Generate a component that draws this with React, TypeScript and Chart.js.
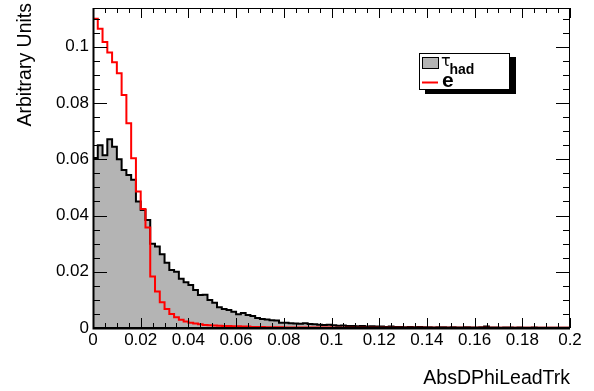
import React, { useEffect, useRef } from "react";
import { Chart, registerables } from "chart.js";

Chart.register(...registerables);

// ---- data ----
const BIN_WIDTH = 0.002;
const X_MIN = 0;
const X_MAX = 0.2;
const Y_MIN = 0;
const Y_MAX = 0.1138;

const tauHad = [
  0.0605, 0.0650, 0.0614, 0.0671, 0.0645, 0.0600, 0.0562, 0.0544, 0.0527, 0.0450,
  0.0420, 0.0384, 0.0300, 0.0290, 0.0262, 0.0232, 0.0206, 0.0200, 0.0175, 0.0163,
  0.0153, 0.0135, 0.0117, 0.0118, 0.0100, 0.0090, 0.0074, 0.0068, 0.0064, 0.0058,
  0.0049, 0.0053, 0.0046, 0.0043, 0.0036, 0.0032, 0.0030, 0.0028, 0.0027, 0.0019,
  0.0019, 0.0017, 0.0016, 0.0015, 0.0017, 0.0014, 0.0013, 0.0012, 0.0011, 0.0012,
  0.0010, 0.0008, 0.0009, 0.0007, 0.0007, 0.0006, 0.0007, 0.0005, 0.0006, 0.0005,
  0.0005, 0.0004, 0.0005, 0.0004, 0.0004, 0.0003, 0.0004, 0.0003, 0.0004, 0.0003,
  0.0003, 0.0002, 0.0003, 0.0003, 0.0002, 0.0003, 0.0002, 0.0002, 0.0003, 0.0002,
  0.0002, 0.0003, 0.0005, 0.0002, 0.0002, 0.0001, 0.0002, 0.0002, 0.0001, 0.0002,
  0.0001, 0.0001, 0.0002, 0.0001, 0.0001, 0.0001, 0.0001, 0.0001, 0.0001, 0.0001,
];

const electron = [
  0.1100, 0.1064, 0.1017, 0.0980, 0.0945, 0.0906, 0.0829, 0.0728, 0.0604, 0.0485,
  0.0423, 0.0357, 0.0183, 0.0130, 0.0092, 0.0068, 0.0050, 0.0038, 0.0029, 0.0023,
  0.0019, 0.0016, 0.0013, 0.0011, 0.0010, 0.0009, 0.0008, 0.0007, 0.0007, 0.0006,
  0.0006, 0.0005, 0.0005, 0.0004, 0.0004, 0.0004, 0.0003, 0.0003, 0.0003, 0.0003,
  0.0002, 0.0002, 0.0002, 0.0002, 0.0002, 0.0002, 0.0002, 0.0002, 0.0002, 0.0002,
  0.0001, 0.0001, 0.0001, 0.0001, 0.0001, 0.0001, 0.0001, 0.0001, 0.0001, 0.0001,
  0.0001, 0.0001, 0.0001, 0.0001, 0.0001, 0.0001, 0.0001, 0.0001, 0.0001, 0.0001,
  0.0001, 0.0001, 0.0001, 0.0001, 0.0001, 0.0001, 0.0001, 0.0001, 0.0001, 0.0001,
  0.0001, 0.0001, 0.0001, 0.0001, 0.0001, 0.0001, 0.0001, 0.0001, 0.0001, 0.0001,
  0.0001, 0.0001, 0.0001, 0.0001, 0.0001, 0.0001, 0.0001, 0.0001, 0.0001, 0.0001,
];

const xTickValues = [0, 0.02, 0.04, 0.06, 0.08, 0.1, 0.12, 0.14, 0.16, 0.18, 0.2];
const xTickLabels = ["0", "0.02", "0.04", "0.06", "0.08", "0.1", "0.12", "0.14", "0.16", "0.18", "0.2"];
const yTickValues = [0, 0.02, 0.04, 0.06, 0.08, 0.1];
const yTickLabels = ["0", "0.02", "0.04", "0.06", "0.08", "0.1"];
const X_MINOR_STEP = 0.005;
const Y_MINOR_STEP = 0.005;

const xTitle = "AbsDPhiLeadTrk";
const yTitle = "Arbitrary Units";
const tauSymbol = "\u03C4";
const tauSubscript = "had";
const electronLabel = "e";

const FONT = "'Liberation Sans', Arial, Helvetica, sans-serif";
const HIST_FILL = "rgb(180,180,180)";

function toSteps(values: number[]) {
  const pts = values.map((v, i) => ({ x: X_MIN + i * BIN_WIDTH, y: v }));
  pts.push({ x: X_MIN + values.length * BIN_WIDTH, y: values[values.length - 1] });
  return pts;
}

const rootFramePlugin = {
  id: "rootFrame",
  afterDatasetsDraw(chart: any) {
    const { ctx, chartArea: a, scales } = chart;
    const xs = scales.x;
    const ys = scales.y;
    ctx.save();
    ctx.strokeStyle = "#000";
    ctx.fillStyle = "#000";

    // frame
    ctx.lineWidth = 1;
    ctx.strokeRect(a.left + 0.5, a.top + 0.5, a.right - a.left - 1, a.bottom - a.top - 1);
    ctx.lineWidth = 2;
    ctx.beginPath();
    ctx.moveTo(a.left + 0.5, a.top);
    ctx.lineTo(a.left + 0.5, a.bottom + 0.5);
    ctx.lineTo(a.right, a.bottom + 0.5);
    ctx.stroke();

    ctx.lineWidth = 1;
    // x ticks
    const nx = Math.round((X_MAX - X_MIN) / X_MINOR_STEP);
    for (let k = 0; k <= nx; k++) {
      const v = X_MIN + k * X_MINOR_STEP;
      const major = xTickValues.some((t) => Math.abs(t - v) < 1e-9);
      const len = major ? 10 : 5;
      const px = Math.round(xs.getPixelForValue(v)) + 0.5;
      ctx.beginPath();
      ctx.moveTo(px, a.bottom);
      ctx.lineTo(px, a.bottom - len);
      ctx.moveTo(px, a.top);
      ctx.lineTo(px, a.top + len);
      ctx.stroke();
    }
    // y ticks
    const ny = Math.floor((Y_MAX - Y_MIN) / Y_MINOR_STEP + 1e-9);
    for (let k = 0; k <= ny; k++) {
      const v = Y_MIN + k * Y_MINOR_STEP;
      const major = yTickValues.some((t) => Math.abs(t - v) < 1e-9);
      const len = major ? 14 : 7;
      const py = Math.round(ys.getPixelForValue(v)) + 0.5;
      ctx.beginPath();
      ctx.moveTo(a.left, py);
      ctx.lineTo(a.left + len, py);
      ctx.moveTo(a.right, py);
      ctx.lineTo(a.right - len, py);
      ctx.stroke();
    }

    // axis titles
    ctx.font = `19.5px ${FONT}`;
    ctx.textAlign = "right";
    ctx.textBaseline = "alphabetic";
    ctx.fillText(xTitle, a.right, 384);
    ctx.save();
    ctx.translate(31, 3);
    ctx.rotate(-Math.PI / 2);
    ctx.textAlign = "right";
    ctx.fillText(yTitle, 0, 0);
    ctx.restore();

    // legend
    const bx = 419, by = 53, bw = 91, bh = 37;
    ctx.fillStyle = "#000";
    ctx.fillRect(bx + 6, by + 4, bw, bh);
    ctx.fillStyle = "#fff";
    ctx.fillRect(bx, by, bw, bh);
    ctx.strokeStyle = "#000";
    ctx.lineWidth = 1;
    ctx.strokeRect(bx + 0.5, by + 0.5, bw - 1, bh - 1);

    // tau entry
    ctx.fillStyle = HIST_FILL;
    ctx.fillRect(422, 57, 16, 11);
    ctx.strokeRect(422.5, 57.5, 16, 11);
    ctx.fillStyle = "#000";
    ctx.textAlign = "left";
    ctx.font = `16px 'DejaVu Sans', sans-serif`;
    ctx.fillText(tauSymbol, 441, 66);
    ctx.font = `bold 14px ${FONT}`;
    ctx.fillText(tauSubscript, 449.5, 73.5);

    // electron entry
    ctx.strokeStyle = "#ff0000";
    ctx.lineWidth = 2;
    ctx.beginPath();
    ctx.moveTo(422, 82.5);
    ctx.lineTo(438, 82.5);
    ctx.stroke();
    ctx.fillStyle = "#000";
    ctx.font = `bold 21px ${FONT}`;
    ctx.fillText(electronLabel, 442, 87);

    ctx.restore();
  },
};

export default function App() {
  const canvasRef = useRef<HTMLCanvasElement | null>(null);

  useEffect(() => {
    const canvas = canvasRef.current;
    if (!canvas) return;
    const chart = new Chart(canvas, {
      type: "line",
      data: {
        datasets: [
          {
            label: "e",
            data: toSteps(electron),
            stepped: true,
            borderColor: "#ff0000",
            borderWidth: 2,
            pointRadius: 0,
            fill: false,
            order: 0,
          },
          {
            label: "tau_had",
            data: toSteps(tauHad),
            stepped: true,
            borderColor: "#000000",
            borderWidth: 2,
            backgroundColor: HIST_FILL,
            pointRadius: 0,
            fill: "origin",
            order: 1,
          },
        ],
      },
      options: {
        animation: false,
        responsive: false,
        devicePixelRatio: 1,
        events: [],
        layout: { padding: { top: 8, right: 24, left: 0, bottom: 0 } },
        plugins: { legend: { display: false }, tooltip: { enabled: false } },
        scales: {
          x: {
            type: "linear",
            min: X_MIN,
            max: X_MAX,
            grid: { display: false, drawTicks: false },
            border: { display: false },
            afterBuildTicks: (s: any) => {
              s.ticks = xTickValues.map((v) => ({ value: v }));
            },
            afterFit: (s: any) => {
              s.height = 63;
              s.paddingLeft = 0;
              s.paddingRight = 0;
            },
            ticks: {
              autoSkip: false,
              maxRotation: 0,
              minRotation: 0,
              padding: 2,
              color: "#000",
              font: { family: FONT, size: 17 },
              callback: (_v: any, i: number) => xTickLabels[i],
            },
          },
          y: {
            type: "linear",
            min: Y_MIN,
            max: Y_MAX,
            grid: { display: false, drawTicks: false },
            border: { display: false },
            afterBuildTicks: (s: any) => {
              s.ticks = yTickValues.map((v) => ({ value: v }));
            },
            afterFit: (s: any) => {
              s.width = 93;
              s.paddingTop = 0;
              s.paddingBottom = 0;
            },
            ticks: {
              autoSkip: false,
              padding: 4,
              color: "#000",
              font: { family: FONT, size: 17 },
              callback: (_v: any, i: number) => yTickLabels[i],
            },
          },
        },
      },
      plugins: [rootFramePlugin],
    });
    return () => chart.destroy();
  }, []);

  return (
    <div style={{ position: "absolute", left: 0, top: 0, width: 594, height: 391, background: "#fff" }}>
      <canvas ref={canvasRef} width={594} height={391} style={{ display: "block", width: 594, height: 391 }} />
    </div>
  );
}
